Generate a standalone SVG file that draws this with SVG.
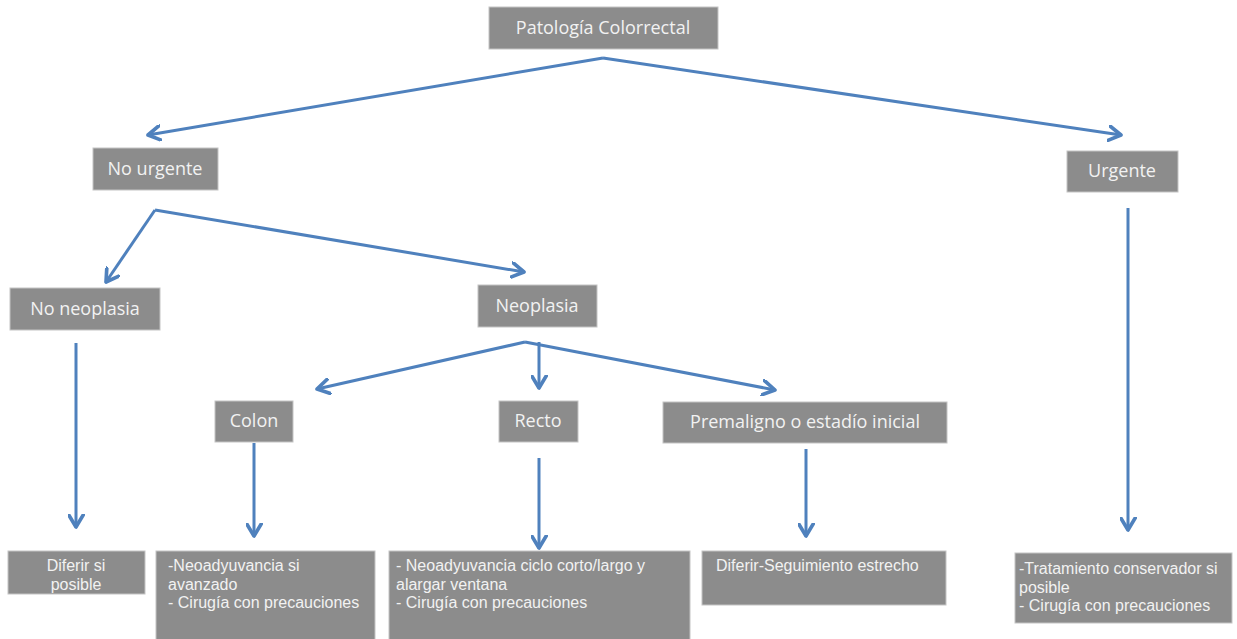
<svg xmlns="http://www.w3.org/2000/svg" width="1237" height="639" viewBox="0 0 1237 639">
<style>
.box{fill:#8c8c8c;stroke:#c4c4c4;stroke-width:1}
.t{font-family:"Open Sans","Liberation Sans",sans-serif;fill:#f2f2f2;font-size:18px;text-anchor:middle}
.s{font-family:"Liberation Sans",Arial,sans-serif;fill:#f2f2f2;font-size:16px}
.c{fill:none;stroke:#4f81bd;stroke-width:3;marker-end:url(#ah)}
</style>
<defs>
<marker id="ah" viewBox="0 0 14 14" refX="11" refY="7" markerWidth="17" markerHeight="17" markerUnits="userSpaceOnUse" orient="auto">
<path d="M1,1 L11,7 L1,13" fill="none" stroke="#4f81bd" stroke-width="3" stroke-linecap="round" stroke-linejoin="round"/>
</marker>
</defs>
<rect width="1237" height="639" fill="#ffffff"/>
<g id="connectors">
<path class="c" d="M603,58 L148,135"/>
<path class="c" d="M603,58 L1121,135"/>
<path class="c" d="M155,210 L106,282"/>
<path class="c" d="M155,210 L524,272"/>
<path class="c" d="M525,342 L317,389"/>
<path class="c" d="M539,342 L539,388"/>
<path class="c" d="M525,342 L775,390"/>
<path class="c" d="M76,343 L76,527"/>
<path class="c" d="M254,443 L254,536"/>
<path class="c" d="M539,458 L539,548"/>
<path class="c" d="M806,449 L806,536"/>
<path class="c" d="M1128,208 L1128,530"/>
</g>
<g id="n_root"><rect class="box" x="489" y="7" width="229" height="42"/><text class="t" x="603" y="34">Patología Colorrectal</text></g>
<g id="n_nourgente"><rect class="box" x="93" y="148" width="125" height="42"/><text class="t" x="155" y="175">No urgente</text></g>
<g id="n_urgente"><rect class="box" x="1067" y="151" width="111" height="41"/><text class="t" x="1122" y="177">Urgente</text></g>
<g id="n_noneoplasia"><rect class="box" x="10" y="288" width="150" height="42"/><text class="t" x="85" y="315">No neoplasia</text></g>
<g id="n_neoplasia"><rect class="box" x="478" y="285" width="119" height="42"/><text class="t" x="537" y="312">Neoplasia</text></g>
<g id="n_colon"><rect class="box" x="215" y="401" width="78" height="41"/><text class="t" x="254" y="427">Colon</text></g>
<g id="n_recto"><rect class="box" x="499" y="401" width="79" height="41"/><text class="t" x="538" y="427">Recto</text></g>
<g id="n_premaligno"><rect class="box" x="663" y="402" width="284" height="41"/><text class="t" x="805" y="428">Premaligno o estadío inicial</text></g>
<g id="n_diferirsi"><rect class="box" x="8" y="551" width="137" height="43"/><text class="s" x="76" y="571" text-anchor="middle">Diferir si</text><text class="s" x="76" y="589.5" text-anchor="middle">posible</text></g>
<g id="n_colon_tx"><rect class="box" x="156" y="551" width="219" height="92"/><text class="s" x="168" y="571">-Neoadyuvancia si</text><text class="s" x="168" y="589.5">avanzado</text><text class="s" x="168" y="608">- Cirugía con precauciones</text></g>
<g id="n_recto_tx"><rect class="box" x="389" y="551" width="301" height="92"/><text class="s" x="396" y="571">- Neoadyuvancia ciclo corto/largo y</text><text class="s" x="396" y="589.5">alargar ventana</text><text class="s" x="396" y="608">- Cirugía con precauciones</text></g>
<g id="n_prem_tx"><rect class="box" x="702" y="551" width="244" height="54"/><text class="s" x="716" y="571">Diferir-Seguimiento estrecho</text></g>
<g id="n_urg_tx"><rect class="box" x="1015" y="553" width="217" height="70"/><text class="s" x="1019" y="574">-Tratamiento conservador si</text><text class="s" x="1019" y="592.5">posible</text><text class="s" x="1019" y="611">- Cirugía con precauciones</text></g>
</svg>
